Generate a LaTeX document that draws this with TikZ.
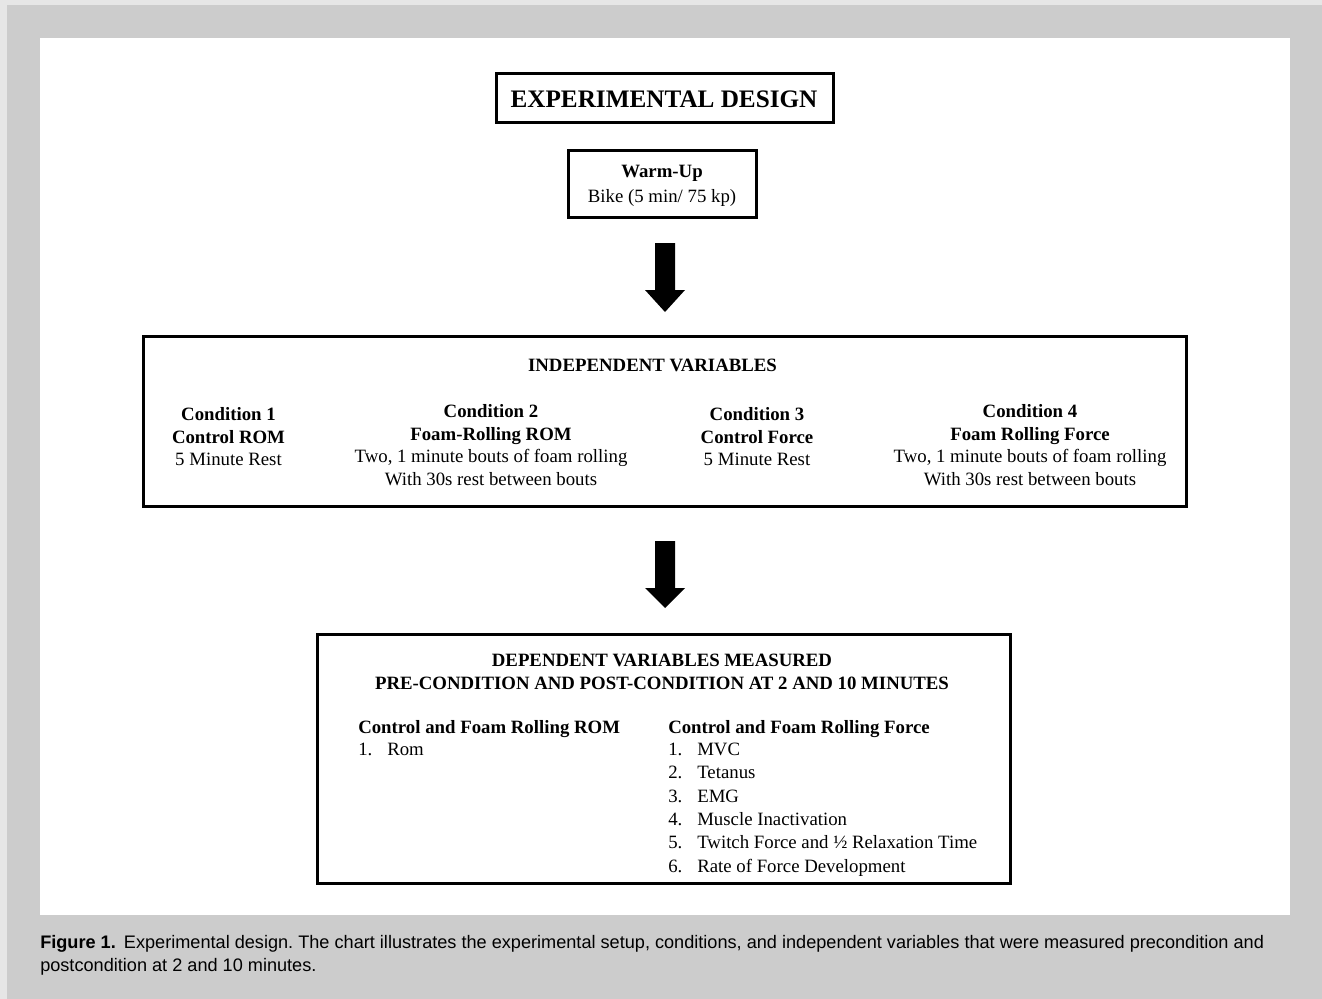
\documentclass[tikz,border=0pt]{standalone}
\usepackage{fontspec}
\setmainfont{Liberation Serif}
\newfontfamily\capfont{Liberation Sans}
\usetikzlibrary{fit}
\definecolor{outergray}{HTML}{CCCCCC}
\definecolor{edgegray}{HTML}{E6E6E6}
\frenchspacing
\begin{document}
\begin{tikzpicture}[x=0.75pt,y=-0.75pt,
  box/.style={draw=black, line width=2.5pt, inner sep=0pt},
  txt/.style={inner sep=0pt, anchor=base, font=\fontsize{14.1}{17}\selectfont},
  btxt/.style={txt, font=\fontsize{14.1}{17}\selectfont\bfseries},
  ltxt/.style={txt, anchor=base west},
  lbtxt/.style={btxt, anchor=base west},
  captxt/.style={inner sep=0pt, anchor=base west, font=\capfont\fontsize{13.6}{16}\selectfont},
  blockarrow/.style={fill=black}]
\useasboundingbox (0,0) rectangle (1322,999);
\fill[edgegray] (0,0) rectangle (1322,999);
\fill[outergray] (7,5) rectangle (1322,999);
\fill[white] (40,38) rectangle (1290,915);

% title
\node[box, fit={(496.5,73.5) (833.5,122.5)}] (title) {};
\node[txt, font=\fontsize{18.9}{22}\selectfont\bfseries] (titletxt) at (664,108) {EXPERIMENTAL DESIGN};

% warm-up
\node[box, fit={(568.5,150.5) (756.5,217.5)}] (warm) {};
\node[btxt] (warm1) at (662,177) {Warm-Up};
\node[txt] (warm2) at (662,202) {Bike (5 min/ 75 kp)};

% arrow 1
\fill[blockarrow] (655,243) -- (675,243) -- (675,290) -- (685,290) -- (665,312) -- (645,290) -- (655,290) -- cycle;

% independent variables
\node[box, fit={(143.5,336.5) (1186.5,506.5)}] (indep) {};
\node[btxt] (indephead) at (652.5,371) {INDEPENDENT VARIABLES};

\node[btxt] (c1a) at (228.5,420) {Condition 1};
\node[btxt] (c1b) at (228.5,443) {Control ROM};
\node[txt]  (c1c) at (228.5,465) {5 Minute Rest};

\node[btxt] (c2a) at (491,417) {Condition 2};
\node[btxt] (c2b) at (491,440) {Foam-Rolling ROM};
\node[txt]  (c2c) at (491,462) {Two, 1 minute bouts of foam rolling};
\node[txt]  (c2d) at (491,485) {With 30s rest between bouts};

\node[btxt] (c3a) at (757,420) {Condition 3};
\node[btxt] (c3b) at (757,443) {Control Force};
\node[txt]  (c3c) at (757,465) {5 Minute Rest};

\node[btxt] (c4a) at (1030,417) {Condition 4};
\node[btxt] (c4b) at (1030,440) {Foam Rolling Force};
\node[txt]  (c4c) at (1030,462) {Two, 1 minute bouts of foam rolling};
\node[txt]  (c4d) at (1030,485) {With 30s rest between bouts};

% arrow 2
\fill[blockarrow] (655,541) -- (675,541) -- (675,588) -- (685,588) -- (665,608) -- (645,588) -- (655,588) -- cycle;

% dependent variables
\node[box, fit={(317.5,634.5) (1010.5,883.5)}] (dep) {};
\node[btxt] (dephead1) at (662,666) {DEPENDENT VARIABLES MEASURED};
\node[btxt] (dephead2) at (662,689) {PRE-CONDITION AND POST-CONDITION AT 2 AND 10 MINUTES};

\node[lbtxt] (romhead) at (358,733) {Control and Foam Rolling ROM};
\node[ltxt] (romn1) at (358,755.5) {1.};
\node[ltxt] (romt1) at (387,755.5) {Rom};

\node[lbtxt] (forcehead) at (668,733) {Control and Foam Rolling Force};
\foreach \i/\t [count=\k from 0] in {1/MVC, 2/Tetanus, 3/EMG, 4/Muscle Inactivation, 5/Twitch Force and ½ Relaxation Time, 6/Rate of Force Development} {
  \node[ltxt] (forcen\i) at (668,755.5+23.3*\k) {\i.};
  \node[ltxt] (forcet\i) at (697,755.5+23.3*\k) {\t};
}

% caption
\node[captxt] (cap1) at (40,948.3) {\textbf{Figure 1.}\hspace{0.45em}Experimental design. The chart illustrates the experimental setup, conditions, and independent variables that were measured precondition and};
\node[captxt] (cap2) at (40,971.7) {postcondition at 2 and 10 minutes.};
\end{tikzpicture}
\end{document}
